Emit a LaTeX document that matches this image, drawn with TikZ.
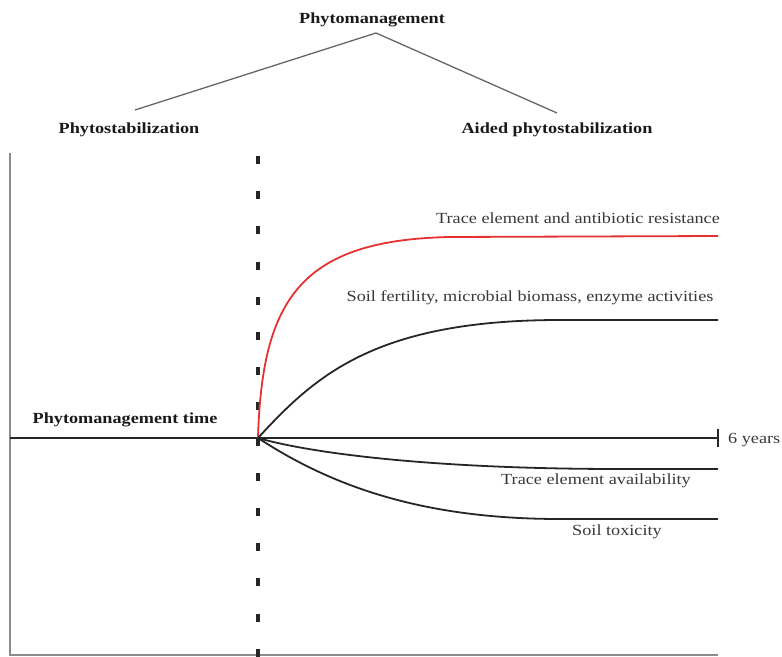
\documentclass[tikz,border=0pt]{standalone}
\usepackage{fontspec}
\setmainfont{Liberation Serif}[FakeStretch=1.18]
\definecolor{cred}{RGB}{228,50,50}
\begin{document}
\begin{tikzpicture}[x=1bp,y=-1bp,
  lbl/.style={font=\fontsize{15.5}{18}\selectfont, text=black!78, inner sep=0pt},
  blbl/.style={font=\fontsize{15.5}{18}\selectfont\bfseries, text=black!90, inner sep=0pt},
  curve/.style={line width=1.8bp, draw=black!85},
  redcurve/.style={line width=1.8bp, draw=cred},
  axis/.style={line width=1.9bp, draw=black!85},
  frame/.style={line width=2.2bp, draw=black!45},
  tree/.style={line width=1.3bp, draw=black!60},
  vdash/.style={line width=3.5bp, draw=black!85, dash pattern=on 8bp off 27.2bp}]
\useasboundingbox (0,0) rectangle (782,657);

% tree at the top
\node[blbl] (pm) at (372,20) {Phytomanagement};
\node[blbl] (ps) at (129,130) {Phytostabilization};
\node[blbl] (aps) at (557,130) {Aided phytostabilization};
\coordinate (apex) at (376,33);
\coordinate (psTop) at (135,110);
\coordinate (apsTop) at (557,113);
\draw[tree] (psTop) -- (apex) -- (apsTop);

% frame
\coordinate (frTop) at (10,153);
\coordinate (frCorner) at (10,655);
\coordinate (frEnd) at (718,655);
\draw[frame] (frTop) -- (frCorner) -- (frEnd);

% dashed divider
\coordinate (dTop) at (258,156);
\coordinate (dBot) at (258,657);
\draw[vdash] (dTop) -- (dBot);

% time axis
\coordinate (O) at (258,438);
\coordinate (axL) at (10,438);
\coordinate (axR) at (718,438);
\coordinate (tkT) at (718,429);
\coordinate (tkB) at (718,447);
\draw[axis] (axL) -- (axR);
\draw[line width=2.3bp, black!85] (tkT) -- (tkB);
\node[lbl, anchor=west] (yrs) at (728,440) {6 years};
\node[blbl] (pmt) at (125,420) {Phytomanagement time};

% curves
\coordinate (rEnd) at (718,236);
\coordinate (sEnd) at (718,320);
\coordinate (aEnd) at (718,469);
\coordinate (tEnd) at (718,519);
\draw[redcurve] (O) .. controls (262,300) and (300,240) .. (450,237) -- (rEnd);
\draw[curve] (O) .. controls (315,376) and (375,320) .. (560,320) -- (sEnd);
\draw[curve] (O) .. controls (310,453) and (430,469) .. (620,469) -- (aEnd);
\draw[curve] (O) .. controls (330,485) and (420,519) .. (560,519) -- (tEnd);

% curve labels
\node[lbl] (tear) at (578,218) {Trace element and antibiotic resistance};
\node[lbl] (sf) at (530,298) {Soil fertility, microbial biomass, enzyme activities};
\node[lbl] (tea) at (596,481) {Trace element availability};
\node[lbl] (st) at (617,532) {Soil toxicity};
\end{tikzpicture}
\end{document}
